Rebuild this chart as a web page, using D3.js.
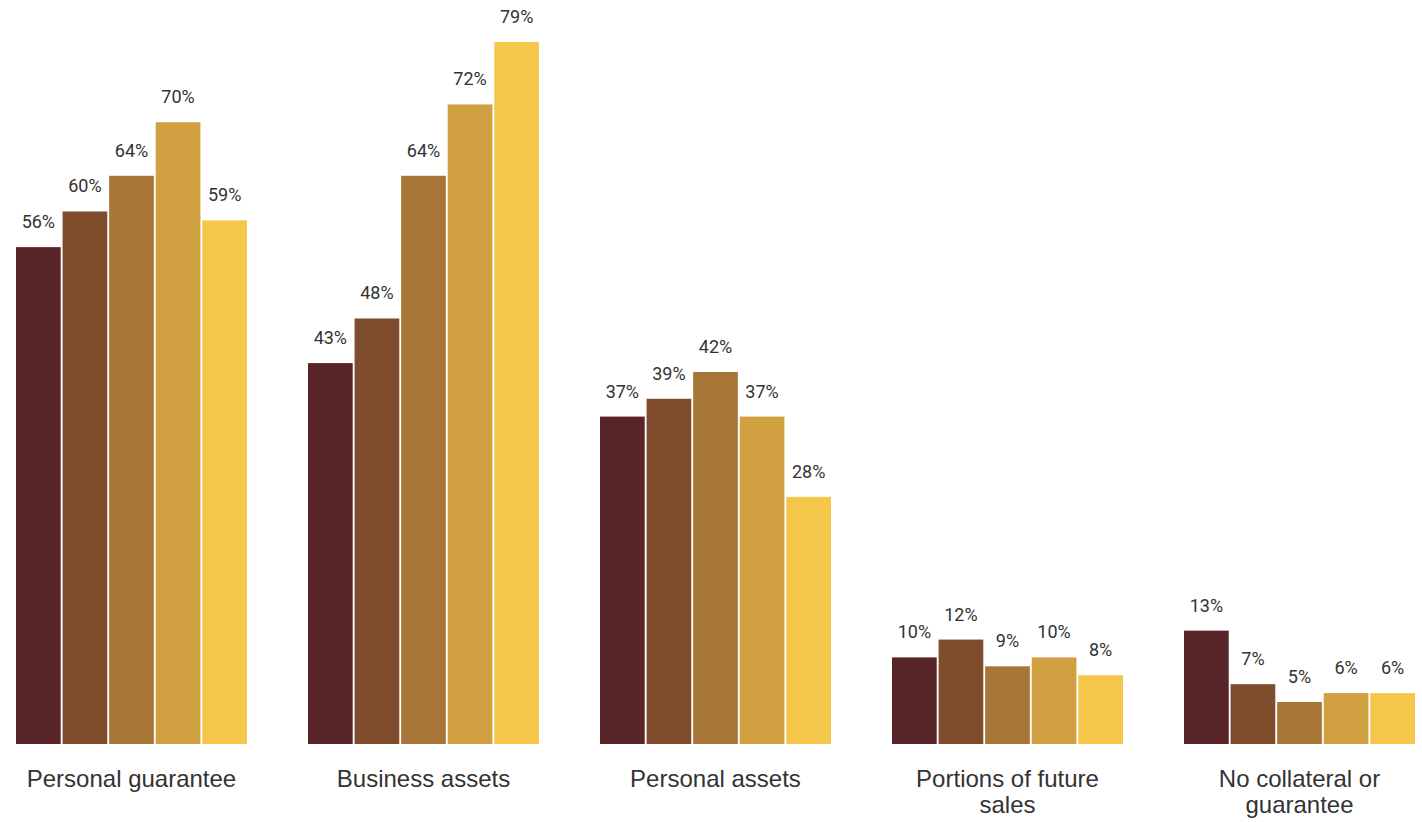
<!DOCTYPE html>
<html>
<head>
<meta charset="utf-8">
<script src="https://cdn.jsdelivr.net/npm/d3@7"></script>
<style>
  html, body { margin: 0; padding: 0; background: #ffffff; }
  svg { display: block; }
</style>
</head>
<body>
<svg id="chart" width="1422" height="822"></svg>
<script>
// ---- Data ----
const categories = [
  ["Personal guarantee"],
  ["Business assets"],
  ["Personal assets"],
  ["Portions of future", "sales"],
  ["No collateral or", "guarantee"]
];
const seriesNames = ["Series 1", "Series 2", "Series 3", "Series 4", "Series 5"];
const series1 = [56, 43, 37, 10, 13];
const series2 = [60, 48, 39, 12, 7];
const series3 = [64, 64, 42, 9, 5];
const series4 = [70, 72, 37, 10, 6];
const series5 = [59, 79, 28, 8, 6];
const seriesValues = [series1, series2, series3, series4, series5];
const seriesColors = ["#592427", "#7f4d2e", "#a87539", "#d0a041", "#f4c74b"];

// ---- Layout ----
const svg = d3.select("#chart");
const baseY = 744;
const catKeys = categories.map(c => c.join(" "));

const x0 = d3.scaleBand()
  .domain(catKeys)
  .range([16, 1415])
  .paddingInner(0.209)
  .paddingOuter(0);

const x1 = d3.scaleBand()
  .domain(seriesNames)
  .range([0, x0.bandwidth()])
  .paddingInner(0.04)
  .paddingOuter(0);

const y = d3.scaleLinear()
  .domain([0, 79])
  .range([746.6, 42]);

const color = d3.scaleOrdinal().domain(seriesNames).range(seriesColors);

const rows = [];
catKeys.forEach((c, ci) => {
  seriesNames.forEach((s, si) => {
    rows.push({ cat: c, series: s, value: seriesValues[si][ci] });
  });
});

const g = svg.append("g");

g.selectAll("rect.bar")
  .data(rows)
  .join("rect")
  .attr("class", "bar")
  .attr("x", d => x0(d.cat) + x1(d.series))
  .attr("y", d => y(d.value))
  .attr("width", x1.bandwidth())
  .attr("height", d => baseY - y(d.value))
  .attr("fill", d => color(d.series));

g.selectAll("text.val")
  .data(rows)
  .join("text")
  .attr("class", "val")
  .attr("x", d => x0(d.cat) + x1(d.series) + x1.bandwidth() / 2)
  .attr("y", d => y(d.value) - 19)
  .attr("text-anchor", "middle")
  .attr("font-family", "Roboto, 'Noto Sans', sans-serif")
  .attr("font-size", 18)
  .attr("fill", "#333333")
  .text(d => d.value + "%");

const catText = g.selectAll("text.cat")
  .data(categories)
  .join("text")
  .attr("class", "cat")
  .attr("x", (d, i) => x0(catKeys[i]) + x0.bandwidth() / 2)
  .attr("y", 787)
  .attr("text-anchor", "middle")
  .attr("font-family", "'Liberation Sans', Arial, sans-serif")
  .attr("font-size", 24)
  .attr("fill", "#333333");

catText.each(function(d, i) {
  const t = d3.select(this);
  d.forEach((line, li) => {
    t.append("tspan")
      .attr("x", x0(catKeys[i]) + x0.bandwidth() / 2)
      .attr("dy", li === 0 ? 0 : 25.5)
      .text(line);
  });
});
</script>
</body>
</html>
